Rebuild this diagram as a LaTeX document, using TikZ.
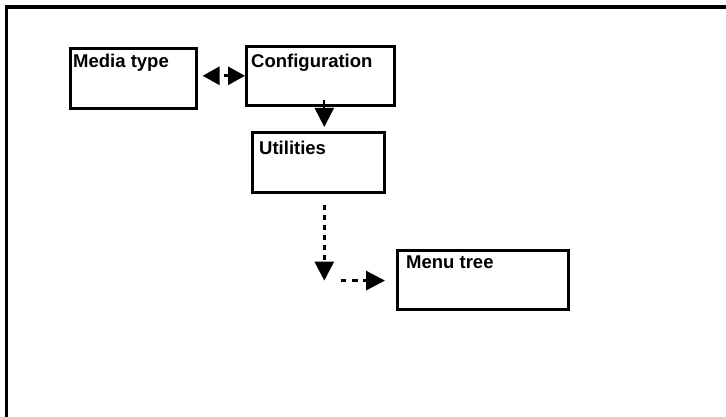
\documentclass[tikz,border=0pt]{standalone}
\usepackage{fontspec}
\setmainfont{Liberation Sans}
\usetikzlibrary{arrows.meta,calc}
\begin{document}
\begin{tikzpicture}[x=1pt,y=-1pt,
  box/.style={draw,line width=2.6pt,rectangle,anchor=north west,inner sep=0pt},
  boxtext/.style={anchor=base west,inner sep=0pt,font=\fontsize{18.5}{20}\selectfont\bfseries},
  bighead/.style={-{Triangle[length=19pt,width=19pt]}},
  solidlink/.style={line width=2pt,bighead},
  dotlink/.style={line width=3pt,dash pattern=on 5pt off 5pt,bighead},
  bothlink/.style={line width=3pt,dash pattern=on 0pt off 5pt on 8pt off 20pt,
    {Triangle[length=17pt,width=18pt]}-{Triangle[length=17pt,width=18pt]}}]
\useasboundingbox (0,0) rectangle (726,417);
% outer frame, open towards the right and the bottom
\draw[line width=3.5pt] (6.5,430) -- (6.5,7) -- (740,7);

% boxes
\node[box,minimum width=126pt,minimum height=60pt] (media) at (69,47) {};
\node[box,minimum width=148pt,minimum height=59pt] (config) at (245,45) {};
\node[box,minimum width=132pt,minimum height=60pt] (util) at (251,131) {};
\node[box,minimum width=171pt,minimum height=59pt] (menu) at (396,249) {};

% titles
\node[boxtext] (mediaT) at ($(media.north west)+(4,21)$) {Media type};
\node[boxtext] (configT) at ($(config.north west)+(6,23)$) {Configuration};
\node[boxtext] (utilT) at ($(util.north west)+(8,24)$) {Utilities};
\node[boxtext] (menuT) at ($(menu.north west)+(10,19)$) {Menu tree};

% connectors
\draw[bothlink] ($(media.east |- config.west)+(5,0)$) -- (config.west);
\draw[solidlink] ($(config.south)+(4,-7)$) -- ($(util.north)+(6,-4)$);
\coordinate (turn) at ($(util.south)+(6,87)$);
\draw[dotlink] ($(util.south)+(6,11)$) -- (turn);
\draw[dotlink,dash pattern=on 0pt off 17pt on 5pt off 6pt on 6pt off 5pt on 5pt off 60pt]
  (turn) -- ($(menu.west |- turn)+(-11,0)$);
\end{tikzpicture}
\end{document}
